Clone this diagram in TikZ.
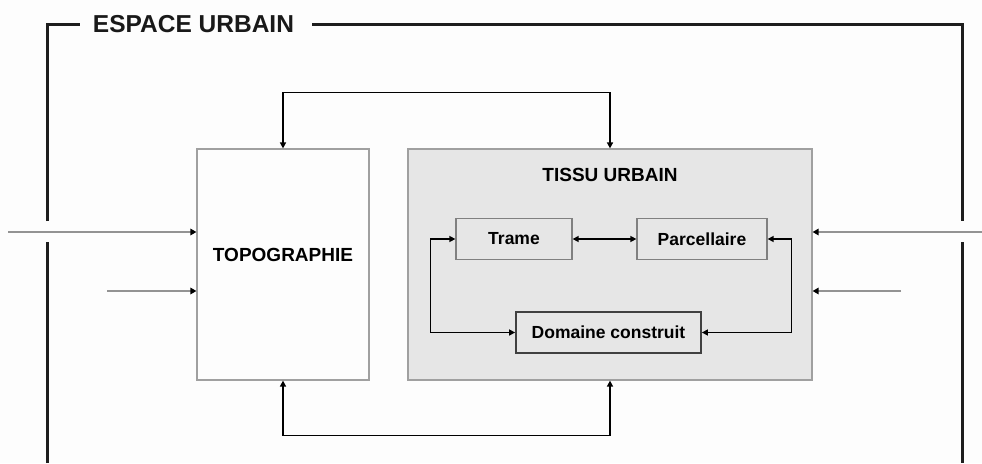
\documentclass[tikz,border=0pt]{standalone}
\usepackage{fontspec}
\setmainfont{Liberation Sans}
\usetikzlibrary{arrows.meta}
\definecolor{paper}{HTML}{FDFDFD}
\definecolor{tissufill}{HTML}{E6E6E6}
\definecolor{boxline}{HTML}{A0A0A0}
\definecolor{frameline}{HTML}{1E1E1E}
\definecolor{feedline}{HTML}{939393}
\tikzset{
  tip/.tip={Triangle[length=6pt,width=6pt]},
  darktip/.tip={Triangle[length=6pt,width=6.5pt,color=black]},
  bigbox/.style={draw=boxline, line width=1.2pt, minimum width=#1, minimum height=231pt, inner sep=0pt},
  smallbox/.style={draw=boxline!80!black, fill=tissufill, line width=1.3pt, minimum height=41pt, inner sep=0pt, font=\bfseries\fontsize{17.5}{20}\selectfont},
  link/.style={draw=black, line width=1.6pt, tip-tip},
  feed/.style={draw=feedline, line width=2pt, -darktip},
  frame/.style={draw=frameline, line width=3pt},
}
\begin{document}
\begin{tikzpicture}[x=1pt, y=-1pt]
  \fill[paper] (0,0) rectangle (982,463);
  \useasboundingbox (0,0) rectangle (982,463);

  % outer frame: open at the bottom, broken where the inputs cross it
  \node[font=\bfseries\fontsize{24.5}{27}\selectfont, inner sep=0pt, text=black!90] (title) at (193.5,24) {ESPACE URBAIN};
  \coordinate (fl) at (47,24);
  \coordinate (fr) at (962,24);
  \draw[frame] (47,463) -- (47,242);
  \draw[frame] (47,221) -- (fl) -- (80,24);
  \draw[frame] (312,24) -- (fr) -- (962,221);
  \draw[frame] (962,242) -- (962,463);

  % main boxes
  \node[bigbox=172pt, fill=paper] (topo) at (283,264.5) {};
  \node[font=\bfseries\fontsize{19}{22}\selectfont] (topolab) at (283,255) {TOPOGRAPHIE};
  \node[bigbox=404pt, fill=tissufill] (tissu) at (610,264.5) {};
  \node[font=\bfseries\fontsize{19}{22}\selectfont] (tissulab) at (610,175) {TISSU URBAIN};

  % components of the urban fabric
  \node[smallbox, minimum width=116pt] (trame) at (514,239) {Trame};
  \node[smallbox, minimum width=130pt] (parc) at (702,239) {Parcellaire};
  \node[smallbox, minimum width=185pt, draw=black!75, line width=1.8pt] (dom) at (608.5,332.5) {Domaine construit};

  \draw[link] (trame) -- (parc);
  \draw[link] (trame.west) -- ++(-25,0) |- (dom.west);
  \draw[link] (parc.east) -- ++(24,0) |- (dom.east);

  % links between topography and urban fabric
  \draw[link] (topo.north) -- ++(0,-56) -| (tissu.north);
  \draw[link] (topo.south) -- ++(0,55) -| (tissu.south);

  % external inputs
  \coordinate (inL1) at (8,232);
  \coordinate (inL2) at (107,291);
  \coordinate (inR1) at (982,232);
  \coordinate (inR2) at (901,291);
  \draw[feed] (inL1) -- (topo.west |- inL1);
  \draw[feed] (inL2) -- (topo.west |- inL2);
  \draw[feed] (inR1) -- (tissu.east |- inR1);
  \draw[feed] (inR2) -- (tissu.east |- inR2);
\end{tikzpicture}
\end{document}
